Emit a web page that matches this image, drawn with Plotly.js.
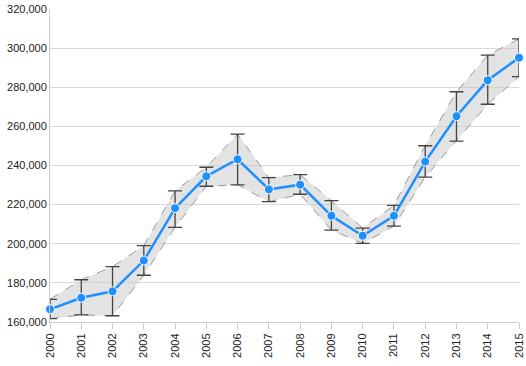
<!DOCTYPE html>
<html>
<head>
<meta charset="utf-8">
<script src="https://cdn.plot.ly/plotly-3.0.1.min.js"></script>
<style>html,body{margin:0;padding:0;background:#fff;}#chart{width:526px;height:366px;}</style>
</head>
<body>
<div id="chart"></div>
<script>
const years = [2000,2001,2002,2003,2004,2005,2006,2007,2008,2009,2010,2011,2012,2013,2014,2015];
const values = [166500,172400,175700,191400,218200,234500,243200,227800,230200,214300,204100,214300,242000,265200,283600,295100];
const upper  = [171600,181600,188300,199000,227000,239100,256000,233800,235300,222000,208000,219600,250100,277700,296400,304700];
const lower  = [161700,163600,163200,183900,208400,229400,230100,221500,225300,207000,200200,209000,234100,252500,271300,285400];
const yTicks = [160000,180000,200000,220000,240000,260000,280000,300000,320000];

const errPlus = upper.map((u,i)=>u-values[i]);
const errMinus = values.map((v,i)=>v-lower[i]);

const traces = [
  {x: years, y: upper, type:'scatter', mode:'lines', line:{color:'#9a9a9a', width:1, dash:'dash'}, hoverinfo:'skip', showlegend:false, cliponaxis:false},
  {x: years, y: lower, type:'scatter', mode:'lines', fill:'tonexty', fillcolor:'rgba(200,200,200,0.5)', line:{color:'#9a9a9a', width:1, dash:'dash'}, hoverinfo:'skip', showlegend:false, cliponaxis:false},
  {x: years, y: values, type:'scatter', mode:'lines+markers', cliponaxis:false, showlegend:false,
   line:{color:'#1e8fff', width:2.5},
   marker:{color:'#1e8fff', size:9, line:{color:'#ffffff', width:1}},
   error_y:{type:'data', symmetric:false, array:errPlus, arrayminus:errMinus, color:'#444', thickness:1.3, width:7}}
];

const layout = {
  width:526, height:366,
  margin:{l:50, r:7, t:9, b:44},
  paper_bgcolor:'#fff', plot_bgcolor:'#fff',
  separators:'.,',
  font:{family:'"Liberation Sans", Arial, sans-serif', size:11, color:'#222'},
  xaxis:{range:[2000,2015], tickvals:years, ticktext:years.map(String), tickangle:-90,
    showgrid:false, zeroline:false, showline:true, linecolor:'#cccccc', linewidth:1,
    ticks:'outside', ticklen:6, tickcolor:'#cccccc', tickfont:{size:11, color:'#222'}},
  yaxis:{range:[160000,320000], tickvals:yTicks, tickformat:',d',
    showgrid:true, gridcolor:'#d9d9d9', gridwidth:1, zeroline:false,
    showline:true, linecolor:'#cccccc', linewidth:1, ticks:'', tickfont:{size:11, color:'#222'}}
};

Plotly.newPlot('chart', traces, layout, {displayModeBar:false, staticPlot:true});
</script>
</body>
</html>
